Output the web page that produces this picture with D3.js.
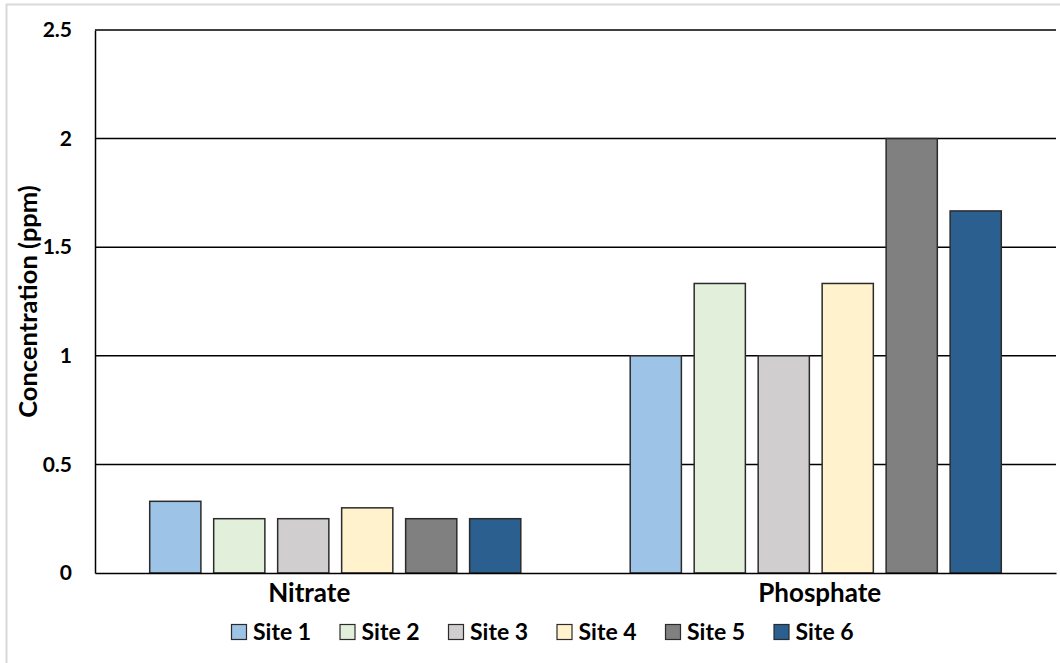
<!DOCTYPE html>
<html>
<head>
<meta charset="utf-8">
<script src="https://cdn.jsdelivr.net/npm/d3@7"></script>
<style>
  html, body { margin: 0; padding: 0; background: #fff; }
  svg { display: block; }
  text { font-family: Lato, "Open Sans", sans-serif; font-weight: bold; fill: #000; }
</style>
</head>
<body>
<svg id="chart" width="1060" height="663"></svg>
<script>
const categories = ["Nitrate", "Phosphate"];
const sites = ["Site 1", "Site 2", "Site 3", "Site 4", "Site 5", "Site 6"];
const nitrate = [0.33, 0.25, 0.25, 0.30, 0.25, 0.25];
const phosphate = [1.0, 1.333, 1.0, 1.333, 2.0, 1.667];
const yTicks = [0, 0.5, 1, 1.5, 2, 2.5];
const colors = ["#9DC3E6", "#E2EFDA", "#D0CECE", "#FFF2CC", "#808080", "#2A5F8F"];

const seriesByCategory = { "Nitrate": nitrate, "Phosphate": phosphate };

const svg = d3.select("#chart");
const W = 1060, H = 663;
const margin = { left: 95, right: 4, top: 30, bottom: 90 };
const plotL = margin.left, plotR = W - margin.right;
const plotT = margin.top, plotB = H - margin.bottom;

// outer chart border
svg.append("rect")
  .attr("x", 6.5).attr("y", 4.5)
  .attr("width", W).attr("height", H)
  .attr("fill", "none").attr("stroke", "#d9d9d9").attr("stroke-width", 2);

const x0 = d3.scaleBand().domain(categories).range([plotL, plotR]).padding(0);
const x1 = d3.scaleBand().domain(sites).range([0, x0.bandwidth()])
  .paddingInner(0.2).paddingOuter(0.855);
const y = d3.scaleLinear().domain([0, 2.5]).range([plotB, plotT]);

// gridlines
svg.append("g").selectAll("line").data(yTicks.filter(d => d > 0)).join("line")
  .attr("x1", plotL).attr("x2", plotR)
  .attr("y1", d => y(d)).attr("y2", d => y(d))
  .attr("stroke", "#000").attr("stroke-width", 1.5);

// y axis
const yAxis = d3.axisLeft(y).tickValues(yTicks).tickSize(0).tickPadding(23)
  .tickFormat(d => d3.format("")(d));
const gy = svg.append("g").attr("transform", `translate(${plotL},0)`).call(yAxis);
gy.select(".domain").attr("stroke", "#000").attr("stroke-width", 1.5);
gy.selectAll("text").style("font-size", "21px").style("font-family", "Lato, sans-serif").style("font-weight", "bold");

// bars
const data = [];
categories.forEach(c => sites.forEach((s, i) => data.push({ c, s, i, v: seriesByCategory[c][i] })));
svg.append("g").selectAll("rect").data(data).join("rect")
  .attr("x", d => x0(d.c) + x1(d.s))
  .attr("width", x1.bandwidth())
  .attr("y", d => y(d.v))
  .attr("height", d => y(0) - y(d.v))
  .attr("fill", d => colors[d.i])
  .attr("stroke", "#2b2b2b").attr("stroke-width", 1.5);

// x axis
const xAxis = d3.axisBottom(x0).tickSize(0).tickPadding(11);
const gx = svg.append("g").attr("transform", `translate(0,${plotB})`).call(xAxis);
gx.select(".domain").attr("stroke", "#000").attr("stroke-width", 1.5);
gx.selectAll("text")
  .style("font-size", "26px").style("font-family", "Lato, sans-serif").style("font-weight", "bold")
  .attr("dx", (d, i) => i === 0 ? -26 : 4);

// y axis title
svg.append("text")
  .attr("transform", `translate(37,${(plotT + plotB) / 2}) rotate(-90)`)
  .attr("text-anchor", "middle")
  .style("font-size", "25.5px")
  .text("Concentration (ppm)");

// legend
const legendStart = 231, legendStep = 108.5, legendY = 632;
const lg = svg.append("g").selectAll("g").data(sites).join("g")
  .attr("transform", (d, i) => `translate(${legendStart + i * legendStep},${legendY})`);
lg.append("rect")
  .attr("x", 0.5).attr("y", -7.5).attr("width", 15).attr("height", 15)
  .attr("fill", (d, i) => colors[i]).attr("stroke", "#2b2b2b").attr("stroke-width", 1.2);
lg.append("text")
  .attr("x", 22).attr("y", 0).attr("dy", "0.36em")
  .style("font-size", "23px")
  .text(d => d);
</script>
</body>
</html>
